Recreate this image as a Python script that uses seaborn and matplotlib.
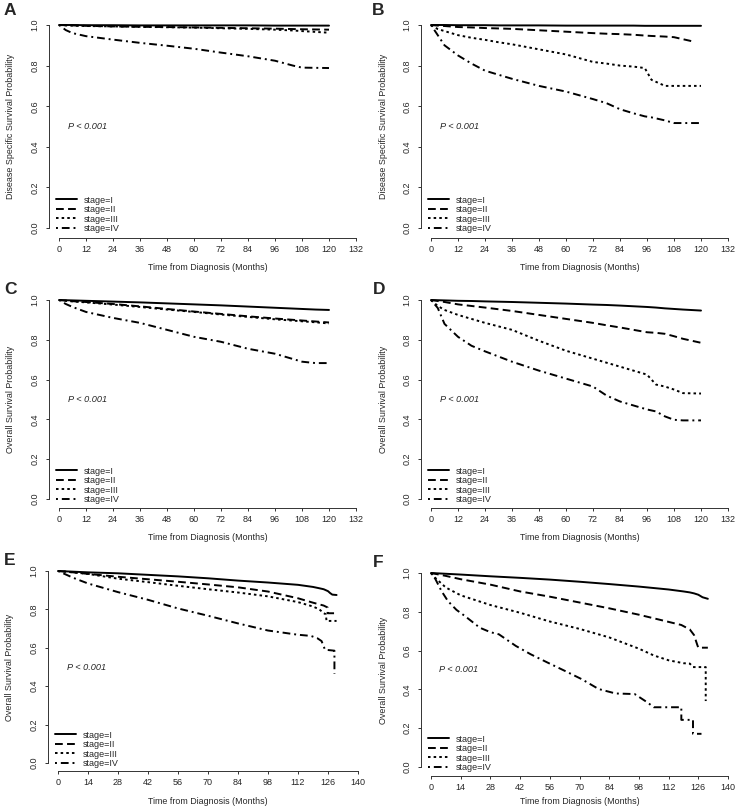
import numpy as np
import pandas as pd
import matplotlib
matplotlib.use('Agg')
import matplotlib.pyplot as plt
import seaborn as sns

nan = np.nan
stages = ['stage=I', 'stage=II', 'stage=III', 'stage=IV']

# ---- A: disease specific survival, cohort 1 (months, survival probability)
a_time = [0, 3, 6, 12, 24, 36, 48, 60, 72, 84, 96, 104, 108, 120]
a_s1 = [1, 1, 1, .999, .999, .998, .998, .998, .998, .998, .997, .997, .997, .997]
a_s2 = [1, .999, .998, .996, .993, .991, .99, .988, .986, .984, .982, .98, .979, .977]
a_s3 = [1, .998, .997, .995, .993, .991, .989, .987, .984, .981, .977, .973, .97, .962]
a_s4 = [1, .975, .96, .945, .928, .912, .898, .883, .864, .846, .824, .80, .79, .788]

# ---- B: disease specific survival, cohort 2
b_time = [0, 3, 6, 12, 18, 24, 30, 36, 48, 60, 72, 78, 84, 90, 95, 98, 104, 108, 116, 120]
b_s1 = [1, 1, 1, .999, .999, .999, .998, .998, .998, .997, .997, .997, .997, .997, .996, .996, .996, .996, .996, .996]
b_s2 = [1, .997, .995, .99, .988, .985, .983, .981, .974, .967, .96, .957, .955, .952, .948, .946, .943, .94, .92, nan]
b_s3 = [1, .98, .97, .95, .937, .927, .915, .905, .88, .855, .818, .81, .80, .795, .788, .73, .70, .70, .70, .70]
b_s4 = [1, .95, .9, .85, .81, .775, .755, .735, .70, .672, .635, .615, .585, .565, .55, .545, .53, .517, .517, .517]

# ---- C: overall survival, cohort 1
c_time = [0, 3, 6, 12, 24, 36, 48, 60, 72, 84, 96, 108, 114, 120]
c_s1 = [1, .999, .998, .996, .992, .988, .983, .978, .973, .967, .961, .955, .952, .95]
c_s2 = [1, .997, .994, .99, .98, .968, .955, .942, .93, .918, .907, .897, .892, .887]
c_s3 = [1, .996, .993, .988, .977, .965, .952, .94, .927, .915, .903, .893, .888, .882]
c_s4 = [1, .98, .965, .94, .91, .885, .85, .815, .79, .755, .73, .69, .683, .683]

# ---- D: overall survival, cohort 2
d_time = [0, 3, 6, 12, 18, 24, 36, 48, 60, 72, 78, 84, 96, 100, 104, 108, 112, 120]
d_s1 = [1, .999, .998, .996, .995, .993, .99, .986, .982, .977, .975, .972, .965, .962, .958, .955, .952, .947]
d_s2 = [1, .995, .99, .978, .97, .962, .945, .925, .905, .885, .873, .862, .838, .835, .83, .818, .805, .785]
d_s3 = [1, .97, .95, .925, .905, .885, .85, .795, .745, .705, .685, .665, .625, .575, .565, .55, .532, .53]
d_s4 = [1, .96, .88, .815, .77, .742, .69, .645, .605, .565, .52, .49, .45, .44, .415, .398, .395, .395]

# ---- E: overall survival, cohort 3
e_t1 = [0, 14, 28, 42, 56, 70, 84, 98, 112, 119, 122, 124, 126, 127, 128, 130]
e_s1 = [1, .993, .988, .98, .972, .962, .95, .94, .928, .917, .91, .905, .895, .885, .877, .875]
e_t2 = [0, 7, 14, 28, 42, 56, 70, 84, 98, 112, 119, 124, 125.8, 125.8, 130]
e_s2 = [1, .993, .985, .97, .957, .944, .93, .915, .893, .858, .835, .82, .81, .78, .78]
e_t3 = [0, 7, 14, 28, 42, 56, 70, 84, 98, 112, 119, 122, 124, 125, 125.3, 130]
e_s3 = [1, .993, .985, .96, .942, .923, .905, .888, .868, .838, .815, .80, .78, .775, .74, .74]
e_t4 = [0, 7, 14, 28, 42, 56, 70, 84, 98, 112, 118, 121, 123, 124.6, 129, 129]
e_s4 = [1, .965, .935, .89, .85, .805, .767, .727, .69, .668, .662, .65, .635, .59, .585, .465]

# ---- F: overall survival, cohort 4
f_t1 = [0, 14, 28, 42, 56, 70, 84, 98, 112, 119, 122, 124, 126, 128, 130.5]
f_s1 = [1, .992, .983, .975, .966, .955, .943, .93, .915, .905, .9, .895, .888, .875, .867]
f_t2 = [0, 7, 14, 28, 42, 56, 70, 84, 98, 112, 118, 122, 124, 125.5, 126, 130.5]
f_s2 = [1, .985, .968, .94, .905, .878, .848, .818, .785, .748, .732, .709, .68, .63, .615, .615]
f_t3 = [0, 2, 7, 14, 28, 42, 56, 70, 84, 98, 105, 112, 119, 122, 123.5, 129.5, 129.5]
f_s3 = [1, .975, .925, .885, .835, .795, .75, .712, .668, .61, .575, .55, .535, .533, .515, .515, .34]
f_t4 = [0, 2, 5, 8, 12, 16, 23, 28, 32, 40, 47, 55, 63, 71, 79, 87, 96, 102, 105, 118, 118, 123.5, 123.5, 127.5]
f_s4 = [1, .97, .906, .855, .81, .778, .718, .695, .684, .624, .581, .538, .496, .453, .402, .379, .376, .333, .308, .308, .243, .243, .171, .171]

dss_label = 'Disease Specific Survival Probability'
os_label = 'Overall Survival Probability'
x_label = 'Time from Diagnosis (Months)'


def curves(times, survs):
    frames = [pd.DataFrame({'time': t, 'surv': s, 'stage': name})
              for name, t, s in zip(stages, times, survs)]
    return pd.concat(frames, ignore_index=True).dropna()


sns.set_style('ticks')
plt.rcParams['font.family'] = ['Liberation Sans', 'DejaVu Sans']

W, H = 740, 808
fig = plt.figure(figsize=(W / 100, H / 100), dpi=100)

dash_map = {'stage=I': '', 'stage=II': (4, 2.2), 'stage=III': (1.3, 1.6),
            'stage=IV': (1, 2, 4, 2)}

# letter, data, ylabel, xmax, xstep, pixel geometry (left line, bottom line, x0, xmax px, y0, y1),
# letter position, x label centre (px)
panels = [
    ('A', curves([a_time] * 4, [a_s1, a_s2, a_s3, a_s4]), dss_label, 132, 12, (49, 238, 59, 356, 228, 25), (4, 3), 267),
    ('B', curves([b_time] * 4, [b_s1, b_s2, b_s3, b_s4]), dss_label, 132, 12, (421, 238, 431, 728, 228, 25), (372, 3), 267),
    ('C', curves([c_time] * 4, [c_s1, c_s2, c_s3, c_s4]), os_label, 132, 12, (49, 508, 59, 356, 499, 300), (4, 282), 537),
    ('D', curves([d_time] * 4, [d_s1, d_s2, d_s3, d_s4]), os_label, 132, 12, (421, 508, 431, 728, 499, 300), (373, 282), 537),
    ('E', curves([e_t1, e_t2, e_t3, e_t4], [e_s1, e_s2, e_s3, e_s4]), os_label, 140, 14, (48, 771, 58, 358, 763, 571), (4, 553), 801),
    ('F', curves([f_t1, f_t2, f_t3, f_t4], [f_s1, f_s2, f_s3, f_s4]), os_label, 140, 14, (421, 776, 431, 728, 767, 573), (373, 555), 801),
]

for letter, df, ylab, xmax, xstep, geo, lpos, xlab_y in panels:
    L, Bm, x0, xm, y0, y1 = geo
    kx = (xm - x0) / xmax
    ky = (y0 - y1)
    padx = x0 - L
    pady = Bm - y0
    R = xm + padx
    T = y1 - pady
    ax = fig.add_axes([L / W, 1 - Bm / H, (R - L) / W, (Bm - T) / H])

    sns.lineplot(data=df, x='time', y='surv', style='stage', style_order=stages,
                 dashes=dash_map, color='black', linewidth=1.4, estimator=None,
                 sort=False, legend=False, ax=ax)

    ax.set_xlim(-padx / kx, xmax + padx / kx)
    ax.set_ylim(-pady / ky, 1 + pady / ky)
    ax.set_xticks(np.arange(0, xmax + 1, xstep))
    ax.set_yticks([0, 0.2, 0.4, 0.6, 0.8, 1.0])
    ax.set_yticklabels(['0.0', '0.2', '0.4', '0.6', '0.8', '1.0'])
    sns.despine(ax=ax)
    ax.spines['left'].set_bounds(0, 1)
    ax.spines['bottom'].set_bounds(0, xmax)
    for sp in ('left', 'bottom'):
        ax.spines[sp].set_linewidth(0.7)
        ax.spines[sp].set_color('#333333')
    ax.tick_params(axis='both', length=2.3, width=0.7, color='#333333', labelsize=6.5)
    ax.tick_params(axis='x', pad=2.5)
    ax.tick_params(axis='y', pad=4.5, labelrotation=90)
    for lab in ax.get_yticklabels():
        lab.set_va('center')

    def frac(px, py):
        return (px - L) / (R - L), (Bm - py) / (Bm - T)

    ax.set_xlabel(x_label, fontsize=6.4, va='center')
    ax.xaxis.set_label_coords(0.5, frac(0, xlab_y)[1])
    ax.set_ylabel(ylab, fontsize=6.4, va='center')
    ax.yaxis.set_label_coords(frac(L - 38, 0)[0], frac(0, (y0 + y1) / 2)[1])

    ax.text(4, 0.5, 'P < 0.001', fontsize=6.6, style='italic', ha='left', va='center')

    ax.legend(handles=ax.lines[:4], labels=stages, loc='lower left',
              bbox_to_anchor=frac(x0 - 3, y0 + 5), frameon=False, fontsize=6.5,
              borderpad=0, borderaxespad=0, handlelength=2.3, handletextpad=0.8,
              labelspacing=0.05)

    fig.text(lpos[0] / W, 1 - lpos[1] / H, letter, fontsize=12.5, fontweight='bold',
             ha='left', va='top')

fig.savefig('out.png', dpi=100)
